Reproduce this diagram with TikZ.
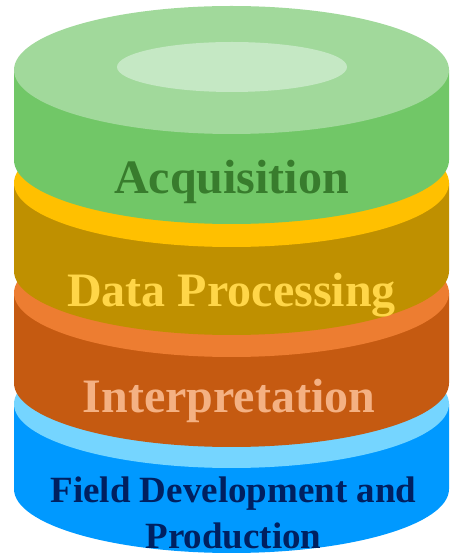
\documentclass[tikz,border=0pt]{standalone}
\usepackage{fontspec}
\setmainfont{Liberation Serif}

% colours of the four discs (top face / side / label)
\definecolor{greenTop}{HTML}{A1D99B}
\definecolor{greenSide}{HTML}{71C767}
\definecolor{greenHole}{HTML}{C5E8C4}
\definecolor{greenText}{HTML}{387C2D}
\definecolor{goldTop}{HTML}{FFC000}
\definecolor{goldSide}{HTML}{BF9000}
\definecolor{goldText}{HTML}{FFD648}
\definecolor{orangeTop}{HTML}{ED7D31}
\definecolor{orangeSide}{HTML}{C55A11}
\definecolor{orangeText}{HTML}{F4B183}
\definecolor{blueTop}{HTML}{75D5FF}
\definecolor{blueSide}{HTML}{0099FF}
\definecolor{blueText}{HTML}{002060}

% one cylinder: #1 top-centre y, #2 bottom-centre y, #3 top colour, #4 side colour
\newcommand{\stackdisc}[4]{%
  \fill[#4] (\cx-\rx,#1) -- (\cx-\rx,#2)
      arc[start angle=180,end angle=360,x radius=\rx,y radius=\ry]
      -- (\cx+\rx,#1) -- cycle;
  \fill[#3] (\cx,#1) ellipse[x radius=\rx,y radius=\ry];
}
\newcommand{\cx}{231.5}
\newcommand{\rx}{217.5}
\newcommand{\ry}{64}

\tikzset{
  label48/.style={font=\fontsize{48}{48}\selectfont\bfseries, anchor=base, inner sep=0pt},
  label37/.style={font=\fontsize{37}{45}\selectfont\bfseries, anchor=base, inner sep=0pt},
}

\begin{document}
\begin{tikzpicture}[x=1pt,y=1pt]
  \useasboundingbox (0,0) rectangle (454,557);

  % stacked discs, lowest first
  \stackdisc{153}{68}{blueTop}{blueSide}
  \stackdisc{264}{174}{orangeTop}{orangeSide}
  \stackdisc{374}{286}{goldTop}{goldSide}
  \stackdisc{487}{397}{greenTop}{greenSide}

  % lighter oval on the top face
  \fill[greenHole] (232,490) ellipse[x radius=115,y radius=25];

  % labels
  \node[label48, text=greenText]  (acq)  at (231.5,363) {Acquisition};
  \node[label48, text=goldText]   (proc) at (231.5,250) {Data Processing};
  \node[label48, text=orangeText] (intp) at (229,144) {Interpretation};
  \node[label37, text=blueText]   (fld1) at (233.5,54) {Field Development and};
  \node[label37, text=blueText]   (fld2) at (233.5,9) {Production};
\end{tikzpicture}
\end{document}
